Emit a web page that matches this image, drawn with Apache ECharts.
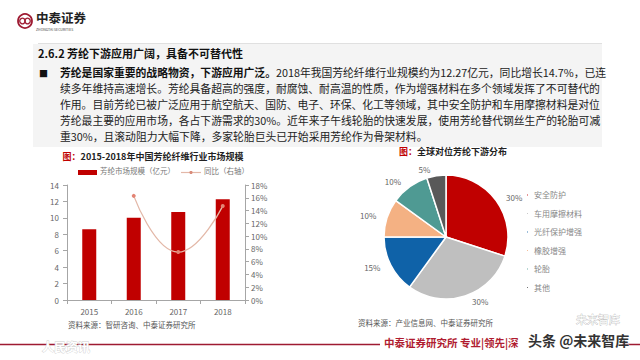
<!DOCTYPE html>
<html><head><meta charset="utf-8">
<script src="https://cdn.jsdelivr.net/npm/echarts@6/dist/echarts.min.js"></script>
<style>html,body{margin:0;padding:0;background:#fff}#c{width:640px;height:360px}</style>
</head><body><div id="c"></div>
<script>
const years = ['2015', '2016', '2017', '2018'];
const marketSize = [8.6, 10.0, 10.7, 12.27];
const yoyGrowth = [null, 16.3, 7.5, 14.7];
const barSeriesName = '芳纶市场规模（亿元）';
const lineSeriesName = '同比（右轴）';
const pieNames = ['安全防护', '车用摩擦材料', '光纤保护增强', '橡胶增强', '轮胎', '其他'];
const pieValues = [30, 30, 15, 10, 10, 5];
const pieColors = ['#c00000', '#bfbfbf', '#0f62a8', '#f4b183', '#4f9a93', '#595959'];
const paraLines = [
  '续多年维持高速增长。芳纶具备超高的强度，耐腐蚀、耐高温的性质，作为增强材料在多个领域发挥了不可替代的',
  '作用。目前芳纶已被广泛应用于航空航天、国防、电子、环保、化工等领域，其中安全防护和车用摩擦材料是对位',
  '芳纶最主要的应用市场，各占下游需求的30%。近年来子午线轮胎的快速发展，使用芳纶替代钢丝生产的轮胎可减',
  '重30%，且滚动阻力大幅下降，多家轮胎巨头已开始采用芳纶作为骨架材料。'
];

const FONT = '"Noto Sans CJK SC", "Noto Sans", sans-serif';
const chart = echarts.init(document.getElementById('c'), null, {renderer: 'svg'});

const graphics = [
  // header logo
  {type: 'circle', shape: {cx: 25, cy: 21, r: 7}, style: {fill: 'none', stroke: '#9e1b32', lineWidth: 1.8}},
  {type: 'circle', shape: {cx: 22.5, cy: 21, r: 2.8}, style: {fill: 'none', stroke: '#9e1b32', lineWidth: 1.3}},
  {type: 'circle', shape: {cx: 27.5, cy: 21, r: 2.8}, style: {fill: 'none', stroke: '#9e1b32', lineWidth: 1.3}},
  {type: 'text', x: 36, y: 11, style: {text: '中泰证券', font: 'bold 12.5px ' + FONT, fill: '#222'}},
  {type: 'text', x: 36, y: 27.5, style: {text: 'ZHONGTAI SECURITIES', font: '3.5px ' + FONT, fill: '#444'}},
  // top separator and grey panel
  {type: 'line', shape: {x1: 38, y1: 43.5, x2: 602, y2: 43.5}, style: {stroke: '#e0e0e0', lineWidth: 1}},
  {type: 'rect', shape: {x: 33, y: 44, width: 569, height: 103}, style: {fill: '#f4f4f4'}},
  {type: 'text', x: 38, y: 47, style: {text: '2.6.2 芳纶下游应用广阔，具备不可替代性', font: 'bold 11px ' + FONT, fill: '#111'}},
  {type: 'text', x: 39, y: 69, style: {text: '■', font: '9px ' + FONT, fill: '#111'}},
  {type: 'text', x: 60, y: 67, style: {
    text: '{b|芳纶是国家重要的战略物资，下游应用广泛。}{n|2018年我国芳纶纤维行业规模约为12.27亿元，同比增长14.7%，已连}',
    rich: {
      b: {font: 'bold 10.8px ' + FONT, fill: '#111'},
      n: {font: '10.8px ' + FONT, fill: '#222'}
    }
  }},
  // left chart title
  {type: 'text', x: 153, y: 152, style: {
    text: '{r|图：}{t|2015-2018年中国芳纶纤维行业市场规模}', textAlign: 'center',
    rich: {r: {font: 'bold 9px ' + FONT, fill: '#c00000'}, t: {font: 'bold 9px ' + FONT, fill: '#222'}}
  }},
  // left chart custom legend
  {type: 'rect', shape: {x: 78, y: 170, width: 19, height: 5}, style: {fill: '#c00000'}},
  {type: 'text', x: 100, y: 167, style: {text: barSeriesName, font: '7.5px ' + FONT, fill: '#777'}},
  {type: 'line', shape: {x1: 181, y1: 172.5, x2: 201, y2: 172.5}, style: {stroke: '#e3b8a8', lineWidth: 1.2}},
  {type: 'circle', shape: {cx: 191, cy: 172.5, r: 1.6}, style: {fill: '#d98c7a'}},
  {type: 'text', x: 204, y: 167, style: {text: lineSeriesName, font: '7.5px ' + FONT, fill: '#777'}},
  // right chart title
  {type: 'text', x: 453, y: 147, style: {
    text: '{r|图：}{t|全球对位芳纶下游分布}', textAlign: 'center',
    rich: {r: {font: 'bold 9px ' + FONT, fill: '#c00000'}, t: {font: 'bold 9px ' + FONT, fill: '#222'}}
  }},
  // sources
  {type: 'text', x: 68, y: 321, style: {text: '资料来源：智研咨询、中泰证券研究所', font: '7.5px ' + FONT, fill: '#555'}},
  {type: 'text', x: 358, y: 319, style: {text: '资料来源：产业信息网、中泰证券研究所', font: '7.5px ' + FONT, fill: '#555'}},
  // footer
  {type: 'line', shape: {x1: 0, y1: 344.5, x2: 380, y2: 344.5}, style: {stroke: '#9e1b32', lineWidth: 1.5}},
  {type: 'line', shape: {x1: 622, y1: 344.5, x2: 640, y2: 344.5}, style: {stroke: '#9e1b32', lineWidth: 1.5}},
  {type: 'text', x: 384, y: 337, style: {text: '中泰证券研究所 专业|领先|深', font: 'bold 10.5px ' + FONT, fill: '#b01c30'}},
  {type: 'text', x: 42, y: 340, style: {text: '人民资讯', font: 'bold 12px ' + FONT, fill: '#ffffff', stroke: '#cfcfcf', lineWidth: 0.8}},
  {type: 'text', x: 576, y: 313, style: {text: '未来智库', font: '11px ' + FONT, fill: '#ffffff', stroke: '#aaaaaa', lineWidth: 0.6}},
  {type: 'text', x: 528, y: 333, style: {text: '头条 @未来智库', font: 'bold 14px ' + FONT, fill: '#333', stroke: '#ffffff', lineWidth: 0.5}}
];
paraLines.forEach(function (t, i) {
  graphics.push({type: 'text', x: 60, y: 83 + i * 16, style: {text: t, font: '10.8px ' + FONT, fill: '#222'}});
});

const option = {
  backgroundColor: '#ffffff',
  animation: false,
  textStyle: {fontFamily: FONT},
  grid: {left: 67, right: 395, top: 185, bottom: 60, containLabel: false},
  xAxis: {
    type: 'category', data: years,
    axisLine: {lineStyle: {color: '#a6a6a6'}},
    axisTick: {show: true, length: 4, lineStyle: {color: '#a6a6a6'}},
    axisLabel: {color: '#666', fontSize: 8, margin: 7}
  },
  yAxis: [
    {type: 'value', min: 0, max: 14, interval: 2,
     axisLine: {show: true, lineStyle: {color: '#a6a6a6'}},
     axisTick: {show: true, length: 4, lineStyle: {color: '#a6a6a6'}},
     splitLine: {show: false},
     axisLabel: {color: '#666', fontSize: 8, margin: 8}},
    {type: 'value', min: 0, max: 18, interval: 2, position: 'right',
     axisLine: {show: true, lineStyle: {color: '#a6a6a6'}},
     axisTick: {show: true, length: 4, lineStyle: {color: '#a6a6a6'}},
     splitLine: {show: false},
     axisLabel: {color: '#666', fontSize: 8, margin: 6, formatter: '{value}%'}}
  ],
  series: [
    {name: barSeriesName, type: 'bar', data: marketSize, barWidth: 14,
     itemStyle: {color: '#c00000'}},
    {name: lineSeriesName, type: 'line', yAxisIndex: 1, data: yoyGrowth, smooth: 0.5,
     connectNulls: false, symbol: 'circle', symbolSize: 4,
     lineStyle: {color: '#e3b8a8', width: 1.3},
     itemStyle: {color: '#e38474'}},
    {type: 'pie', center: [446, 237], radius: 62, startAngle: 90, clockwise: true,
     data: pieNames.map(function (n, i) { return {name: n, value: pieValues[i], itemStyle: {color: pieColors[i]}}; }),
     itemStyle: {borderColor: '#ffffff', borderWidth: 1.5},
     label: {show: true, position: 'outside', formatter: '{c}%', color: '#666', fontSize: 8},
     labelLine: {show: false, length: 6, length2: 0},
     emphasis: {disabled: true}}
  ],
  legend: {show: true, data: pieNames, orient: 'vertical', left: 520, top: 186, itemGap: 10.5,
    icon: 'circle', itemWidth: 3, itemHeight: 3, selectedMode: false,
    textStyle: {color: '#888', fontSize: 8, fontFamily: FONT}},
  graphic: graphics
};
chart.setOption(option);
</script></body></html>
